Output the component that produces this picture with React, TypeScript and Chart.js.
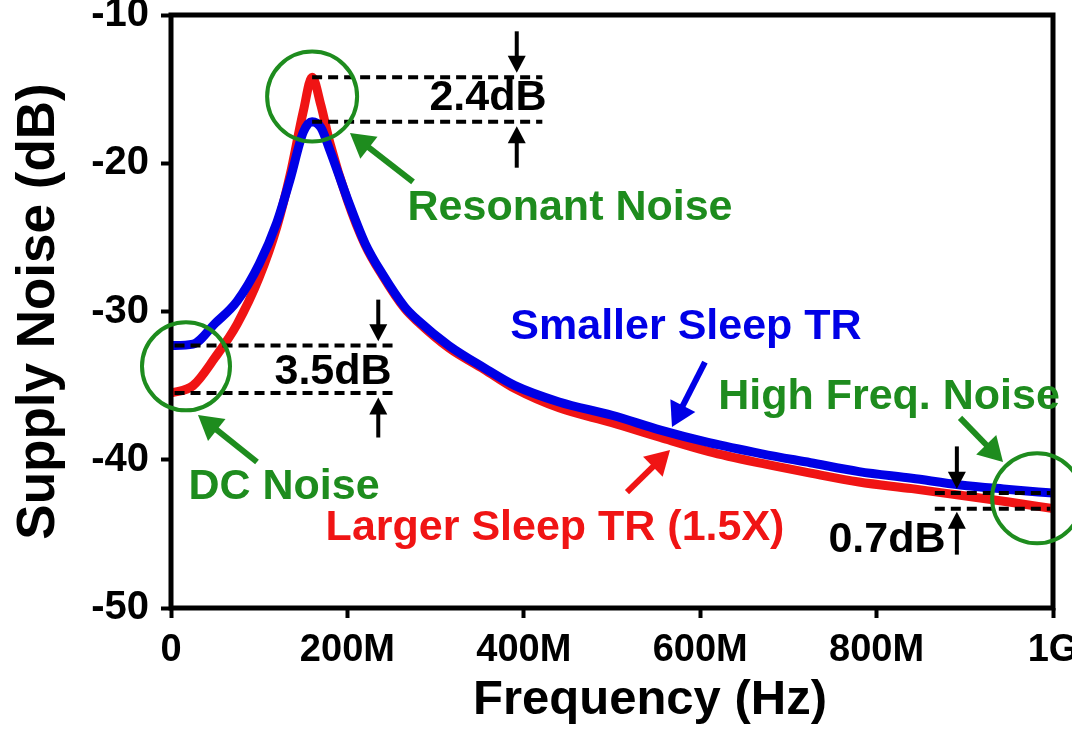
import React, { useEffect, useRef } from "react";
import { Chart, registerables } from "chart.js";

Chart.register(...registerables);

// ---- Data (frequency in MHz, noise in dB) ----
const freqMHz = [0, 25, 50, 75, 100, 120, 135, 150, 160, 170, 180, 200, 220, 240, 265, 280, 315, 355, 390, 440, 500, 555, 610, 670, 725, 780, 840, 895, 950, 1000];
const smallerSleepTR = [-32.3, -32.2, -30.8, -29.3, -26.8, -24.0, -21.1, -17.9, -17.2, -17.6, -19.1, -22.4, -25.4, -27.5, -29.7, -30.6, -32.3, -33.8, -35.0, -36.1, -37.0, -38.0, -38.85, -39.6, -40.2, -40.8, -41.25, -41.7, -42.0, -42.25];
const largerSleepTR = [-35.5, -35.0, -33.1, -30.85, -27.7, -24.3, -20.8, -16.5, -14.2, -16.1, -18.6, -22.5, -25.5, -27.6, -29.8, -30.7, -32.45, -33.9, -35.2, -36.5, -37.5, -38.5, -39.45, -40.25, -40.9, -41.5, -41.95, -42.4, -42.85, -43.3];

const xTickValues = [0, 200, 400, 600, 800, 1000];
const xTickLabels = ["0", "200M", "400M", "600M", "800M", "1G"];
const yTickValues = [-50, -40, -30, -20, -10];

const seriesNames = ["Smaller Sleep TR", "Larger Sleep TR (1.5X)"];
const xTitle = "Frequency (Hz)";
const yTitle = "Supply Noise (dB)";

// ---- Annotations (data coordinates) ----
const dashedLines = [
  { x1: 160, x2: 421, y: -14.2 },
  { x1: 160, x2: 421, y: -17.2 },
  { x1: 4, x2: 256, y: -32.3 },
  { x1: 4, x2: 256, y: -35.5 },
  { x1: 866, x2: 997, y: -42.25 },
  { x1: 866, x2: 997, y: -43.3 },
];

const blackArrows = [
  { x1: 392, y1: -11.1, x2: 392, y2: -13.9 },
  { x1: 392, y1: -20.3, x2: 392, y2: -17.5 },
  { x1: 235, y1: -29.2, x2: 235, y2: -32.0 },
  { x1: 235, y1: -38.5, x2: 235, y2: -35.8 },
  { x1: 891, y1: -39.1, x2: 891, y2: -41.95 },
  { x1: 891, y1: -46.4, x2: 891, y2: -43.5 },
];

const colorArrows = [
  { x1: 274.4, y1: -21.26, x2: 202.9, y2: -17.96, color: "#1e8c1e" },
  { x1: 97.5, y1: -40.15, x2: 30.6, y2: -36.98, color: "#1e8c1e" },
  { x1: 894.6, y1: -37.18, x2: 943.3, y2: -40.15, color: "#1e8c1e" },
  { x1: 605.4, y1: -33.41, x2: 568.0, y2: -37.79, color: "#0000e6" },
  { x1: 517.0, y1: -42.18, x2: 565.8, y2: -39.34, color: "#f01414" },
];

const circles = [
  { x: 160.0, y: -15.5, r: 45 },
  { x: 17.0, y: -33.7, r: 44 },
  { x: 982.0, y: -42.6, r: 45 },
];

const labels = [
  { text: "2.4dB", x: 359.4, y: -15.6, color: "#000000" },
  { text: "Resonant Noise", x: 452.4, y: -23.0, color: "#1e8c1e" },
  { text: "Smaller Sleep TR", x: 583.9, y: -31.05, color: "#0000e6" },
  { text: "3.5dB", x: 183.7, y: -34.1, color: "#000000" },
  { text: "High Freq. Noise", x: 814.1, y: -35.8, color: "#1e8c1e" },
  { text: "DC Noise", x: 128.1, y: -41.85, color: "#1e8c1e" },
  { text: "Larger Sleep TR (1.5X)", x: 435.4, y: -44.6, color: "#f01414" },
  { text: "0.7dB", x: 811.8, y: -45.4, color: "#000000" },
];

const FONT = '"Liberation Sans", Arial, sans-serif';

function drawArrow(ctx: CanvasRenderingContext2D, x1: number, y1: number, x2: number, y2: number, color: string, lw: number, headLen: number, headHalf: number) {
  const ang = Math.atan2(y2 - y1, x2 - x1);
  const bx = x2 - Math.cos(ang) * headLen;
  const by = y2 - Math.sin(ang) * headLen;
  ctx.save();
  ctx.strokeStyle = color;
  ctx.fillStyle = color;
  ctx.lineWidth = lw;
  ctx.setLineDash([]);
  ctx.beginPath();
  ctx.moveTo(x1, y1);
  ctx.lineTo(bx + Math.cos(ang) * 2, by + Math.sin(ang) * 2);
  ctx.stroke();
  ctx.beginPath();
  ctx.moveTo(x2, y2);
  ctx.lineTo(bx + Math.cos(ang + Math.PI / 2) * headHalf, by + Math.sin(ang + Math.PI / 2) * headHalf);
  ctx.lineTo(bx + Math.cos(ang - Math.PI / 2) * headHalf, by + Math.sin(ang - Math.PI / 2) * headHalf);
  ctx.closePath();
  ctx.fill();
  ctx.restore();
}

const annotationPlugin = {
  id: "customAnnotations",
  afterDraw(chart: any) {
    const { ctx, chartArea } = chart;
    const xs = chart.scales.x;
    const ys = chart.scales.y;
    const X = (v: number) => xs.getPixelForValue(v);
    const Y = (v: number) => ys.getPixelForValue(v);
    ctx.save();
    // frame
    ctx.strokeStyle = "#000";
    ctx.lineWidth = 5;
    ctx.strokeRect(chartArea.left, chartArea.top, chartArea.right - chartArea.left, chartArea.bottom - chartArea.top);

    // x-axis title (slightly right of centre, as in the original)
    ctx.fillStyle = "#000";
    ctx.font = `bold 49px ${FONT}`;
    ctx.textAlign = "center";
    ctx.textBaseline = "middle";
    ctx.fillText(xTitle, (chartArea.left + chartArea.right) / 2 + 38, chart.height - 34);

    // dashed lines
    ctx.strokeStyle = "#000";
    ctx.lineWidth = 4;
    ctx.setLineDash([10, 6]);
    dashedLines.forEach((d) => {
      ctx.beginPath();
      ctx.moveTo(X(d.x1), Y(d.y));
      ctx.lineTo(X(d.x2), Y(d.y));
      ctx.stroke();
    });
    ctx.setLineDash([]);

    // circles
    ctx.strokeStyle = "#1e8c1e";
    ctx.lineWidth = 4;
    circles.forEach((c) => {
      ctx.beginPath();
      ctx.arc(X(c.x), Y(c.y), c.r, 0, Math.PI * 2);
      ctx.stroke();
    });

    // black arrows
    blackArrows.forEach((a) => drawArrow(ctx, X(a.x1), Y(a.y1), X(a.x2), Y(a.y2), "#000", 4, 17, 9));
    // color arrows
    colorArrows.forEach((a) => drawArrow(ctx, X(a.x1), Y(a.y1), X(a.x2), Y(a.y2), a.color, 6, 24, 14));

    // labels
    ctx.font = `bold 43px ${FONT}`;
    ctx.textAlign = "center";
    ctx.textBaseline = "middle";
    labels.forEach((l) => {
      ctx.fillStyle = l.color;
      ctx.fillText(l.text, X(l.x), Y(l.y));
    });
    ctx.restore();
  },
};

export default function App() {
  const canvasRef = useRef<HTMLCanvasElement | null>(null);

  useEffect(() => {
    document.body.style.margin = "0";
    const canvas = canvasRef.current;
    if (!canvas) return;
    const chart = new Chart(canvas, {
      type: "line",
      data: {
        datasets: [
          {
            label: seriesNames[0],
            data: freqMHz.map((f, i) => ({ x: f, y: smallerSleepTR[i] })),
            borderColor: "#0000e6",
            borderWidth: 9,
            pointRadius: 0,
            cubicInterpolationMode: "monotone",
            fill: false,
            order: 0,
          },
          {
            label: seriesNames[1],
            data: freqMHz.map((f, i) => ({ x: f, y: largerSleepTR[i] })),
            borderColor: "#f01414",
            borderWidth: 9,
            pointRadius: 0,
            cubicInterpolationMode: "monotone",
            fill: false,
            order: 1,
          },
        ],
      },
      options: {
        responsive: false,
        animation: false,
        layout: { padding: { top: 15, right: 19, left: 0, bottom: 0 } },
        plugins: {
          legend: { display: false },
          tooltip: { enabled: false },
        },
        scales: {
          x: {
            type: "linear",
            min: 0,
            max: 1000,
            afterFit: (scale: any) => {
              scale.height = 126;
              scale.paddingLeft = 0;
              scale.paddingRight = 0;
            },
            afterBuildTicks: (scale: any) => {
              scale.ticks = xTickValues.map((v) => ({ value: v }));
            },
            ticks: {
              color: "#000",
              font: { family: FONT, size: 38, weight: "bold" },
              padding: 10,
              maxRotation: 0,
              autoSkip: false,
              callback: (v: any) => {
                const i = xTickValues.indexOf(Number(v));
                return i >= 0 ? xTickLabels[i] : "";
              },
            },
            grid: {
              drawOnChartArea: false,
              drawTicks: true,
              tickLength: 10,
              tickWidth: 4,
              tickColor: "#000",
            },
            border: { display: false },
            title: { display: false },
          },
          y: {
            type: "linear",
            min: -50,
            max: -10,
            afterFit: (scale: any) => {
              scale.width = 171;
              scale.paddingTop = 0;
              scale.paddingBottom = 0;
            },
            afterBuildTicks: (scale: any) => {
              scale.ticks = yTickValues.map((v) => ({ value: v }));
            },
            ticks: {
              color: "#000",
              font: { family: FONT, size: 40, weight: "bold" },
              padding: 12,
              callback: (v: any) => String(v),
            },
            grid: {
              drawOnChartArea: false,
              drawTicks: true,
              tickLength: 10,
              tickWidth: 4,
              tickColor: "#000",
            },
            border: { display: false },
            title: {
              display: true,
              text: yTitle,
              color: "#000",
              font: { family: FONT, size: 53, weight: "bold" },
              padding: { top: 8, bottom: 0 },
            },
          },
        },
      },
      plugins: [annotationPlugin],
    } as any);
    return () => chart.destroy();
  }, []);

  return (
    <div style={{ width: 1072, height: 734, background: "#fff" }}>
      <canvas ref={canvasRef} width={1072} height={734} style={{ display: "block" }} />
    </div>
  );
}
